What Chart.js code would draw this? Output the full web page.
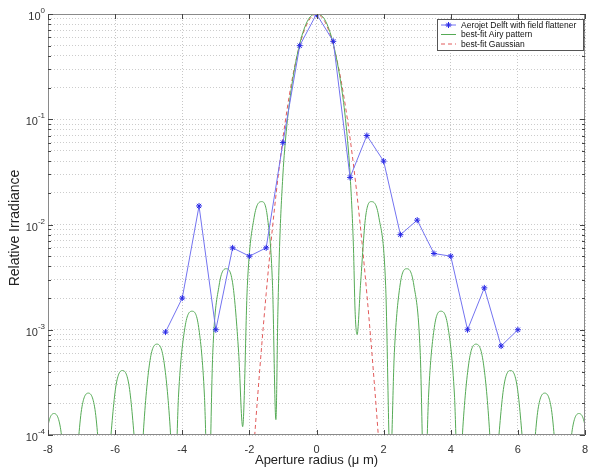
<!DOCTYPE html>
<html>
<head>
<meta charset="utf-8">
<script src="https://cdn.jsdelivr.net/npm/chart.js@4.4.0/dist/chart.umd.min.js"></script>
<style>
  html, body { margin: 0; background: #fff; }
  canvas { display: block; }
</style>
</head>
<body>
<canvas id="c" width="600" height="473"></canvas>
<script>
// measured points (blue stars)
const measX = [-4.5, -4, -3.5, -3, -2.5, -2, -1.5, -1, -0.5, 0, 0.5, 1, 1.5, 2, 2.5, 3, 3.5, 4, 4.5, 5, 5.5, 6];
const measY = [0.00095, 0.002, 0.015, 0.001, 0.006, 0.005, 0.006, 0.06, 0.5, 1, 0.55, 0.028, 0.07, 0.04, 0.008, 0.011, 0.0053, 0.005, 0.001, 0.0025, 0.0007, 0.001];

// best-fit Airy pattern (green), read lobe by lobe
const airyX = [
  -8.33, -8.21, -8.02, -7.82, -7.62, -7.43,
  -7.31, -7.19, -7.0, -6.8, -6.6, -6.41,
  -6.29, -6.17, -5.98, -5.78, -5.58, -5.39,
  -5.27, -5.15, -4.96, -4.75, -4.55, -4.36,
  -4.24, -4.11, -3.92, -3.71, -3.51, -3.34,
  -3.22, -3.09, -2.9, -2.69, -2.49, -2.32,
  -2.2, -2.06, -1.86, -1.63, -1.46, -1.31,
  -1.21, -1.15, -1.1, -1.0, -0.9, -0.75, -0.5, -0.25,
  0,
  0.25, 0.5, 0.75, 0.9, 1.0, 1.1, 1.15, 1.21,
  1.31, 1.46, 1.63, 1.86, 2.06, 2.2,
  2.32, 2.49, 2.69, 2.9, 3.09, 3.22,
  3.34, 3.51, 3.71, 3.92, 4.11, 4.24,
  4.36, 4.55, 4.75, 4.96, 5.15, 5.27,
  5.39, 5.58, 5.78, 5.98, 6.17, 6.29,
  6.41, 6.6, 6.8, 7.0, 7.19, 7.31,
  7.43, 7.62, 7.82, 8.02, 8.21, 8.33
];
const airyY = [
  2e-5, 2.6e-5, 0.000112, 0.00016, 0.000112, 2.6e-5,
  2e-5, 4e-5, 0.000175, 0.00025, 0.000175, 4e-5,
  2e-5, 6.6e-5, 0.000287, 0.00041, 0.000287, 6.6e-5,
  2e-5, 0.000117, 0.000511, 0.00073, 0.000511, 0.000117,
  2e-5, 0.00024, 0.00105, 0.0015, 0.00105, 0.00024,
  2e-5, 0.00061, 0.00266, 0.0038, 0.00266, 0.00061,
  0.00012, 0.00264, 0.0116, 0.0165, 0.0116, 0.00264,
  0.00014, 0.0015, 0.0062, 0.03, 0.077, 0.195, 0.52, 0.88,
  1,
  0.88, 0.52, 0.195, 0.077, 0.03, 0.0062, 0.0015, 0.0009,
  0.00264, 0.0116, 0.0165, 0.0116, 0.00264, 5e-5,
  0.00061, 0.00266, 0.0038, 0.00266, 0.00061, 2e-5,
  0.00024, 0.00105, 0.0015, 0.00105, 0.00024, 2e-5,
  0.000117, 0.000511, 0.00073, 0.000511, 0.000117, 2e-5,
  6.6e-5, 0.000287, 0.00041, 0.000287, 6.6e-5, 2e-5,
  4e-5, 0.000175, 0.00025, 0.000175, 4e-5, 2e-5,
  2.6e-5, 0.000112, 0.00016, 0.000112, 2.6e-5, 2e-5
];

// best-fit Gaussian (red dashed)
const gaussX = [-2.25, -2, -1.75, -1.5, -1.25, -1, -0.75, -0.5, -0.25, 0, 0.25, 0.5, 0.75, 1, 1.25, 1.5, 1.75, 2, 2.25];
const gaussY = [1e-6, 1.9e-5, 0.00024, 0.0022, 0.0143, 0.066, 0.217, 0.507, 0.844, 1, 0.844, 0.507, 0.217, 0.066, 0.0143, 0.0022, 0.00024, 1.9e-5, 1e-6];

const seriesNames = ['Aerojet Delft with field flattener', 'best-fit Airy pattern', 'best-fit Gaussian'];
const xTicks = [-8, -6, -4, -2, 0, 2, 4, 6, 8];
const yDecades = [1, 0.1, 0.01, 0.001, 0.0001];
const yExponents = ['0', '-1', '-2', '-3', '-4'];
const yMantissas = [1, 2, 3, 4, 5, 6, 7, 8, 9];
const xTitle = 'Aperture radius (μ m)';
const yTitle = 'Relative Irradiance';

const FONT = "'Liberation Sans', Arial, sans-serif";
const BLUE = 'rgb(115,115,240)';
const GREEN = 'rgb(85,170,85)';
const RED = 'rgb(225,90,90)';

const pts = (xs, ys) => xs.map((x, i) => ({ x, y: ys[i] }));

// grid values for the log axis: 1..9 in every decade
const yGrid = [];
yDecades.slice(1).forEach(d => yMantissas.forEach(m => yGrid.push(m * d)));
yGrid.push(1);

// box, inward ticks, y labels, axis titles, legend
const decor = {
  id: 'decor',
  afterDraw(chart) {
    const { ctx, chartArea: a, scales } = chart;
    const xs = scales.x, ys = scales.y;
    ctx.save();

    // box
    ctx.strokeStyle = '#8a8a8a';
    ctx.lineWidth = 1;
    ctx.strokeRect(Math.round(a.left) + 0.5, Math.round(a.top) + 0.5,
      Math.round(a.right - a.left) - 1, Math.round(a.bottom - a.top) - 1);

    // inward ticks
    ctx.strokeStyle = '#444';
    ctx.beginPath();
    xTicks.forEach(v => {
      const px = Math.round(xs.getPixelForValue(v)) + 0.5;
      ctx.moveTo(px, a.bottom); ctx.lineTo(px, a.bottom - 5);
      ctx.moveTo(px, a.top); ctx.lineTo(px, a.top + 5);
    });
    yGrid.forEach(v => {
      const py = Math.round(ys.getPixelForValue(v)) + 0.5;
      const len = yDecades.includes(v) ? 5 : 3;
      ctx.moveTo(a.left, py); ctx.lineTo(a.left + len, py);
      ctx.moveTo(a.right, py); ctx.lineTo(a.right - len, py);
    });
    ctx.stroke();

    // y tick labels 10^n
    ctx.fillStyle = '#333';
    yDecades.forEach((v, i) => {
      const py = ys.getPixelForValue(v);
      ctx.font = '8px ' + FONT;
      const ew = ctx.measureText(yExponents[i]).width;
      const ex = a.left - 3 - ew;
      ctx.textAlign = 'left';
      ctx.textBaseline = 'alphabetic';
      ctx.fillText(yExponents[i], ex, py - 1);
      ctx.font = '11px ' + FONT;
      ctx.textAlign = 'right';
      ctx.fillText('10', ex, py + 6);
    });

    // axis titles
    ctx.fillStyle = '#222';
    ctx.font = '13px ' + FONT;
    ctx.textAlign = 'center';
    ctx.textBaseline = 'middle';
    ctx.fillText(xTitle, (a.left + a.right) / 2, a.bottom + 25);
    ctx.save();
    ctx.translate(15, 228);
    ctx.rotate(-Math.PI / 2);
    ctx.font = '14px ' + FONT;
    ctx.fillText(yTitle, 0, 0);
    ctx.restore();

    // legend box
    const lx = a.right - 148, ly = a.top + 5, lw = 147, lh = 32;
    ctx.fillStyle = '#fff';
    ctx.fillRect(lx, ly, lw, lh);
    ctx.strokeStyle = '#555';
    ctx.strokeRect(lx + 0.5, ly + 0.5, lw - 1, lh - 1);
    ctx.font = '8.5px ' + FONT;
    ctx.textAlign = 'left';
    ctx.textBaseline = 'middle';
    chart.data.datasets.forEach((ds, i) => {
      const ry = ly + 6 + i * 9.5;
      ctx.save();
      ctx.strokeStyle = ds.borderColor;
      ctx.setLineDash(ds.borderDash || []);
      ctx.beginPath();
      ctx.moveTo(lx + 4, ry); ctx.lineTo(lx + 19, ry);
      ctx.stroke();
      ctx.restore();
      if (ds.pointStyle === 'star') {
        ctx.save();
        ctx.strokeStyle = ds.pointBorderColor;
        Chart.helpers.drawPoint(ctx, { pointStyle: 'star', radius: 3, borderWidth: 1 }, lx + 11.5, ry);
        ctx.restore();
      }
      ctx.fillStyle = '#111';
      ctx.fillText(ds.label, lx + 24, ry + 0.5);
    });
    ctx.restore();
  }
};

new Chart(document.getElementById('c'), {
  type: 'line',
  data: {
    datasets: [
      {
        label: seriesNames[0],
        data: pts(measX, measY),
        borderColor: BLUE,
        borderWidth: 1,
        pointStyle: 'star',
        pointRadius: 3,
        pointBorderColor: 'rgb(40,40,230)',
        pointBorderWidth: 1,
        tension: 0
      },
      {
        label: seriesNames[1],
        data: pts(airyX, airyY),
        borderColor: GREEN,
        borderWidth: 1,
        pointRadius: 0,
        cubicInterpolationMode: 'monotone'
      },
      {
        label: seriesNames[2],
        data: pts(gaussX, gaussY),
        borderColor: RED,
        borderWidth: 1,
        borderDash: [4, 3],
        pointRadius: 0,
        cubicInterpolationMode: 'monotone'
      }
    ]
  },
  options: {
    responsive: false,
    animation: false,
    layout: { padding: { left: 48, right: 15, top: 14, bottom: 9 } },
    plugins: { legend: { display: false }, tooltip: { enabled: false } },
    scales: {
      x: {
        type: 'linear',
        min: -8,
        max: 8,
        afterBuildTicks: axis => { axis.ticks = xTicks.map(v => ({ value: v })); },
        ticks: { color: '#333', font: { family: FONT, size: 11, lineHeight: 1 }, padding: 9 },
        grid: { color: 'rgba(0,0,0,0.22)', drawTicks: false },
        border: { display: false, dash: [1, 2] }
      },
      y: {
        type: 'logarithmic',
        min: 0.0001,
        max: 1,
        afterBuildTicks: axis => { axis.ticks = yGrid.map(v => ({ value: v })); },
        ticks: { display: false },
        grid: { color: 'rgba(0,0,0,0.2)', drawTicks: false },
        border: { display: false, dash: [1, 2] }
      }
    }
  },
  plugins: [decor]
});
</script>
</body>
</html>
